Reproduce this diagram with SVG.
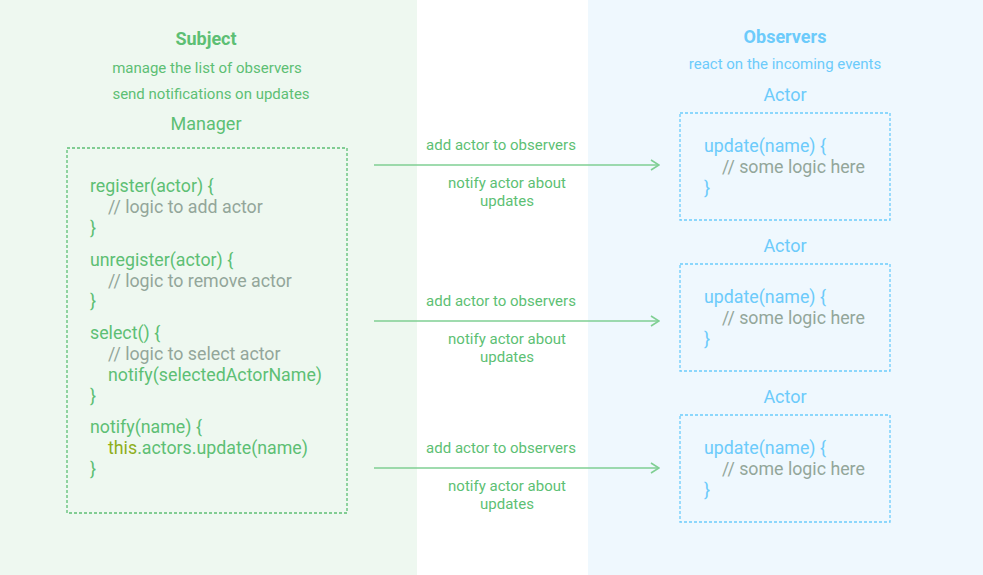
<svg xmlns="http://www.w3.org/2000/svg" width="983" height="575" viewBox="0 0 983 575">
<defs>
<style>
text{font-family:Roboto,"Liberation Sans",sans-serif}
.g{fill:#5dbf74}
.b{fill:#6ccbfb}
.c{fill:#93a69a}
.y{fill:#8fae1a}
.t{font-size:18px;font-weight:bold;text-anchor:middle}
.s{font-size:15px;text-anchor:middle}
.h{font-size:18px;text-anchor:middle}
.k{font-size:17.8px}
.box{fill:none;stroke-width:1.3;stroke-dasharray:3 2}
.conn{stroke:#7fcf93;stroke-width:1.6;fill:none}
</style>
<marker id="arr" viewBox="0 0 10 12" refX="9" refY="6" markerWidth="10" markerHeight="12" markerUnits="userSpaceOnUse" orient="auto">
<path d="M1,1 L9,6 L1,11" fill="none" stroke="#7fcf93" stroke-width="1.6"/>
</marker>
</defs>
<rect x="0" y="0" width="983" height="575" fill="#ffffff"/>
<rect x="0" y="0" width="417" height="575" fill="#eef8f0"/>
<rect x="588" y="0" width="395" height="575" fill="#eff8fe"/>

<g id="subject">
<text class="g t" x="206" y="45">Subject</text>
<text class="g s" x="207" y="73">manage the list of observers</text>
<text class="g s" x="211" y="99">send notifications on updates</text>
</g>

<g id="manager">
<text class="g h" x="206" y="130">Manager</text>
<rect class="box" x="67" y="148" width="280" height="365" stroke="#5dbf74"/>
<text class="g k" x="90" y="192">register(actor) {</text>
<text class="c k" x="108" y="213">// logic to add actor</text>
<text class="g k" x="90" y="234">}</text>
<text class="g k" x="90" y="266">unregister(actor) {</text>
<text class="c k" x="108" y="287">// logic to remove actor</text>
<text class="g k" x="90" y="307">}</text>
<text class="g k" x="90" y="339">select() {</text>
<text class="c k" x="108" y="360">// logic to select actor</text>
<text class="g k" x="108" y="381">notify(selectedActorName)</text>
<text class="g k" x="90" y="402">}</text>
<text class="g k" x="90" y="433">notify(name) {</text>
<text class="g k" x="108" y="454"><tspan class="y">this</tspan>.actors.update(name)</text>
<text class="g k" x="90" y="475">}</text>
</g>

<g id="connectors">
<line class="conn" x1="374" y1="165" x2="659" y2="165" marker-end="url(#arr)"/>
<line class="conn" x1="374" y1="321" x2="659" y2="321" marker-end="url(#arr)"/>
<line class="conn" x1="374" y1="468" x2="659" y2="468" marker-end="url(#arr)"/>
<text class="g s" x="501" y="150">add actor to observers</text>
<text class="g s" x="507" y="188">notify actor about</text>
<text class="g s" x="507" y="206">updates</text>
<text class="g s" x="501" y="306">add actor to observers</text>
<text class="g s" x="507" y="344">notify actor about</text>
<text class="g s" x="507" y="362">updates</text>
<text class="g s" x="501" y="453">add actor to observers</text>
<text class="g s" x="507" y="491">notify actor about</text>
<text class="g s" x="507" y="509">updates</text>
</g>

<g id="observers">
<text class="b t" x="785" y="43">Observers</text>
<text class="b s" x="785" y="69">react on the incoming events</text>
</g>

<g id="actor1">
<text class="b h" x="785" y="101">Actor</text>
<rect class="box" x="680" y="113" width="210" height="107" stroke="#6ccbfb"/>
<text class="b k" x="704" y="152">update(name) {</text>
<text class="c k" x="722" y="173">// some logic here</text>
<text class="b k" x="704" y="194">}</text>
</g>

<g id="actor2">
<text class="b h" x="785" y="252">Actor</text>
<rect class="box" x="680" y="264" width="210" height="107" stroke="#6ccbfb"/>
<text class="b k" x="704" y="303">update(name) {</text>
<text class="c k" x="722" y="324">// some logic here</text>
<text class="b k" x="704" y="345">}</text>
</g>

<g id="actor3">
<text class="b h" x="785" y="403">Actor</text>
<rect class="box" x="680" y="415" width="210" height="107" stroke="#6ccbfb"/>
<text class="b k" x="704" y="454">update(name) {</text>
<text class="c k" x="722" y="475">// some logic here</text>
<text class="b k" x="704" y="496">}</text>
</g>
</svg>
